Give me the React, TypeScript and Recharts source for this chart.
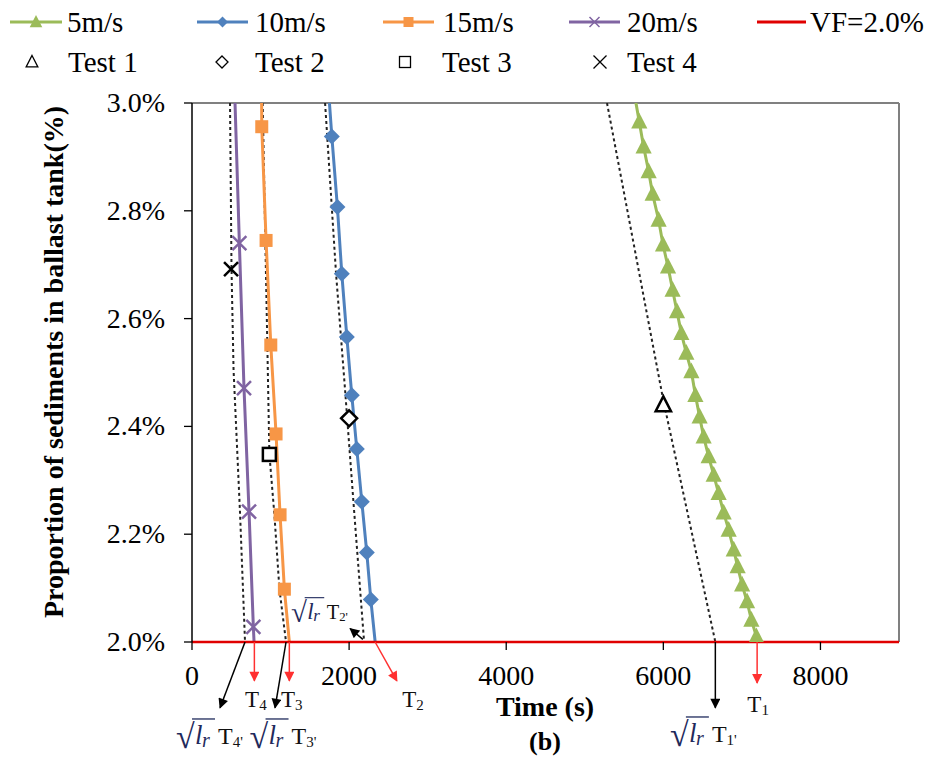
import React from 'react'
import { ComposedChart, Line, Scatter, XAxis, YAxis, ReferenceLine, ReferenceDot } from 'recharts'

const FONT = '"Liberation Serif", "Times New Roman", serif'
const GREEN = '#9bbb59'
const BLUE = '#4f81bd'
const ORANGE = '#f79646'
const PURPLE = '#8064a2'
const RED = '#e00000'
const ARROW_RED = '#ff3030'
const SQRT_BLUE = '#1f2a5c'

const xTicks = [0, 2000, 4000, 6000, 8000]
const yTicks = [2.0, 2.2, 2.4, 2.6, 2.8, 3.0]

// simulated curves (first/last point sit just outside the plot and get clipped)
const time5 = [5615, 5694, 5749, 5813, 5864, 5940, 5996, 6060, 6118, 6174, 6229, 6293, 6357, 6408, 6462, 6513, 6577, 6641, 6704, 6768, 6832, 6896, 6946, 7003, 7066, 7121, 7185, 7245]
const vf5 = [3.03, 2.965, 2.919, 2.873, 2.831, 2.783, 2.737, 2.696, 2.653, 2.613, 2.573, 2.536, 2.502, 2.458, 2.418, 2.381, 2.344, 2.31, 2.276, 2.24, 2.208, 2.171, 2.14, 2.106, 2.075, 2.041, 2.01, 1.97]
const time10 = [1735, 1780, 1851, 1907, 1971, 2034, 2098, 2162, 2225, 2276, 2360]
const vf10 = [3.03, 2.938, 2.807, 2.683, 2.566, 2.458, 2.358, 2.26, 2.166, 2.079, 1.96]
const time15 = [885, 888, 943, 1003, 1070, 1121, 1176, 1265]
const vf15 = [3.04, 2.956, 2.745, 2.551, 2.386, 2.236, 2.098, 1.96]
const time20 = [537, 603, 662, 726, 781, 803]
const vf20 = [3.05, 2.74, 2.471, 2.242, 2.028, 1.96]

// scaled curves (sqrt(lr) * T)
const timeS1 = [5283, 5999, 6662]
const vfS1 = [3.0, 2.449, 2.0]
const timeS2 = [1694, 1834, 1949, 2055, 2191]
const vfS2 = [3.0, 2.683, 2.467, 2.26, 2.0]
const timeS3 = [900, 959, 985, 1049, 1113, 1197]
const vfS3 = [3.0, 2.551, 2.349, 2.236, 2.098, 2.0]
const timeS4 = [484, 503, 529, 611, 675]
const vfS4 = [3.0, 2.692, 2.505, 2.241, 2.0]

// experiments
const testNames = ['Test 1', 'Test 2', 'Test 3', 'Test 4']
const testTime = [6000, 2000, 985, 497]
const testVf = [2.44, 2.415, 2.348, 2.692]

const zip = (xs: number[], ys: number[]) => xs.map((x, i) => ({ x, y: ys[i] }))

const s5 = zip(time5, vf5)
const s10 = zip(time10, vf10)
const s15 = zip(time15, vf15)
const s20 = zip(time20, vf20)
const scaled = [zip(timeS1, vfS1), zip(timeS2, vfS2), zip(timeS3, vfS3), zip(timeS4, vfS4)]
const tests = testNames.map((name, i) => ({ name, data: [{ x: testTime[i], y: testVf[i] }] }))

// annotation arrows, in data coordinates
const redArrows = [
  [{ x: 794, y: 2.0 }, { x: 794, y: 1.928 }],
  [{ x: 1239, y: 2.0 }, { x: 1239, y: 1.928 }],
  [{ x: 2331, y: 2.0 }, { x: 2608, y: 1.928 }],
  [{ x: 7194, y: 2.0 }, { x: 7194, y: 1.924 }],
]
const blackArrows = [
  [{ x: 675, y: 2.0 }, { x: 357, y: 1.878 }],
  [{ x: 1197, y: 2.0 }, { x: 1057, y: 1.878 }],
  [{ x: 6662, y: 2.0 }, { x: 6662, y: 1.878 }],
  [{ x: 2175, y: 2.005 }, { x: 2013, y: 2.025 }],
]
const tLabels = [
  { x: 803, y: 1.892, sub: '4' },
  { x: 1261, y: 1.892, sub: '3' },
  { x: 2803, y: 1.892, sub: '2' },
  { x: 7197, y: 1.883, sub: '1' },
]
const sqrtLabels = [
  { x: 242, y: 1.8275, sub: "4'", scale: 1 },
  { x: 1178, y: 1.8275, sub: "3'", scale: 1 },
  { x: 6529, y: 1.8312, sub: "1'", scale: 1 },
  { x: 1640, y: 2.057, sub: "2'", scale: 0.85 },
]

const triPath = (cx: number, cy: number, s: number) =>
  `M${cx},${cy - s} L${cx + s * 0.9},${cy + s * 0.75} L${cx - s * 0.9},${cy + s * 0.75} Z`
const diaPath = (cx: number, cy: number, s: number) =>
  `M${cx},${cy - s} L${cx + s},${cy} L${cx},${cy + s} L${cx - s},${cy} Z`
const xPath = (cx: number, cy: number, s: number) =>
  `M${cx - s},${cy - s} L${cx + s},${cy + s} M${cx + s},${cy - s} L${cx - s},${cy + s}`

const triDot = (p: any) =>
  p.cx == null ? null : <path key={`tri${p.index}`} d={triPath(p.cx, p.cy, 9)} fill={GREEN} />
const diaDot = (p: any) =>
  p.cx == null ? null : <path key={`dia${p.index}`} d={diaPath(p.cx, p.cy, 8)} fill={BLUE} />
const sqDot = (p: any) =>
  p.cx == null ? null : <rect key={`sq${p.index}`} x={p.cx - 6.5} y={p.cy - 6.5} width={13} height={13} fill={ORANGE} />
const xDot = (p: any) =>
  p.cx == null ? null : <path key={`x${p.index}`} d={xPath(p.cx, p.cy, 7)} stroke={PURPLE} strokeWidth={2.5} fill="none" />

const testShapes = [
  (p: any) => <path d={triPath(p.cx, p.cy, 8.5)} fill="#fff" stroke="#000" strokeWidth={2.5} />,
  (p: any) => <path d={diaPath(p.cx, p.cy, 8)} fill="#fff" stroke="#000" strokeWidth={2.5} />,
  (p: any) => <rect x={p.cx - 6.5} y={p.cy - 6.5} width={13} height={13} fill="#fff" stroke="#000" strokeWidth={2.5} />,
  (p: any) => <path d={xPath(p.cx, p.cy, 7)} stroke="#000" strokeWidth={2.5} fill="none" />,
]

const XTick = (p: any) => (
  <text x={p.x} y={p.y} dy={20} textAnchor="middle" fontFamily={FONT} fontSize={28} fill="#000">
    {p.payload.value}
  </text>
)
const YTick = (p: any) => (
  <text x={p.x} y={p.y} dy={9} textAnchor="end" fontFamily={FONT} fontSize={28} fill="#000">
    {`${Number(p.payload.value).toFixed(1)}%`}
  </text>
)

function TLabel({ cx, cy, sub }: { cx: number; cy: number; sub: string }) {
  return (
    <text x={cx - 10} y={cy + 7} fontFamily={FONT} fontSize={23} fill="#111">
      T<tspan fontSize={15} dy={3}>{sub}</tspan>
    </text>
  )
}

function SqrtLabel({ cx, cy, sub, scale }: { cx: number; cy: number; sub: string; scale: number }) {
  return (
    <g transform={`translate(${cx},${cy}) scale(${scale}) translate(-35,0)`}>
      <text x={0} y={13} fontFamily={FONT} fontSize={34} fill={SQRT_BLUE}>√</text>
      <line x1={16} y1={-16} x2={39} y2={-16} stroke={SQRT_BLUE} strokeWidth={1.3} />
      <text x={19} y={9} fontFamily={FONT} fontSize={27} fontStyle="italic" fill={SQRT_BLUE}>l</text>
      <text x={26} y={12} fontFamily={FONT} fontSize={20} fontStyle="italic" fill={SQRT_BLUE}>r</text>
      <text x={42} y={9} fontFamily={FONT} fontSize={24} fill="#111">
        T<tspan fontSize={15} dy={3}>{sub}</tspan>
      </text>
    </g>
  )
}

function ChartLegend() {
  const row1 = [
    { label: '5m/s', color: GREEN, x1: 10, x2: 62, tx: 67, mark: 'tri' },
    { label: '10m/s', color: BLUE, x1: 197, x2: 248, tx: 255, mark: 'dia' },
    { label: '15m/s', color: ORANGE, x1: 383, x2: 434, tx: 443, mark: 'sq' },
    { label: '20m/s', color: PURPLE, x1: 569, x2: 620, tx: 627, mark: 'x' },
    { label: 'VF=2.0%', color: RED, x1: 757, x2: 806, tx: 810, mark: 'none' },
  ]
  const row2 = [
    { cx: 32, tx: 68 },
    { cx: 222, tx: 255 },
    { cx: 405, tx: 442 },
    { cx: 600, tx: 627 },
  ]
  return (
    <svg width={939} height={90} style={{ position: 'absolute', left: 0, top: 0, pointerEvents: 'none' }}>
      {row1.map((it) => {
        const mx = (it.x1 + it.x2) / 2
        return (
          <g key={it.label}>
            <line x1={it.x1} y1={22} x2={it.x2} y2={22} stroke={it.color} strokeWidth={3} />
            {it.mark === 'tri' && <path d={triPath(mx, 22, 7)} fill={it.color} />}
            {it.mark === 'dia' && <path d={diaPath(mx, 22, 5.5)} fill={it.color} />}
            {it.mark === 'sq' && <rect x={mx - 5} y={17} width={10} height={10} fill={it.color} />}
            {it.mark === 'x' && <path d={xPath(mx, 22, 5)} stroke={it.color} strokeWidth={1.5} fill="none" />}
            <text x={it.tx} y={32} fontFamily={FONT} fontSize={29} fill="#000">{it.label}</text>
          </g>
        )
      })}
      {row2.map((it, i) => (
        <g key={i}>
          {i === 0 && <path d={triPath(it.cx, 62, 6.5)} fill="none" stroke="#000" strokeWidth={1.3} />}
          {i === 1 && <path d={diaPath(it.cx, 62, 6)} fill="none" stroke="#000" strokeWidth={1.3} />}
          {i === 2 && <rect x={it.cx - 5.5} y={56.5} width={11} height={11} fill="none" stroke="#000" strokeWidth={1.3} />}
          {i === 3 && <path d={xPath(it.cx, 62, 6.5)} fill="none" stroke="#000" strokeWidth={1.3} />}
          <text x={it.tx} y={72} fontFamily={FONT} fontSize={29} fill="#000">{testNames[i]}</text>
        </g>
      ))}
    </svg>
  )
}

export default function App() {
  return (
    <div style={{ position: 'absolute', left: 0, top: 0, width: 939, height: 760, background: '#fff', fontFamily: FONT }}>
      <svg width={0} height={0} style={{ position: 'absolute' }}>
        <defs>
          <marker id="ahRed" viewBox="0 0 10 10" refX="9" refY="5" markerWidth="11" markerHeight="10" markerUnits="userSpaceOnUse" orient="auto">
            <path d="M0,0 L10,5 L0,10 z" fill={ARROW_RED} />
          </marker>
          <marker id="ahBlack" viewBox="0 0 10 10" refX="9" refY="5" markerWidth="11" markerHeight="10" markerUnits="userSpaceOnUse" orient="auto">
            <path d="M0,0 L10,5 L0,10 z" fill="#000" />
          </marker>
        </defs>
      </svg>
      <ComposedChart width={939} height={760} margin={{ top: 103, right: 40, bottom: 0, left: 0 }}>
        <XAxis
          type="number"
          dataKey="x"
          domain={[0, 9000]}
          ticks={xTicks}
          allowDataOverflow
          height={118}
          axisLine={false}
          tickSize={8}
          tickMargin={15}
          tickLine={{ stroke: '#000', strokeWidth: 1.3 }}
          tick={XTick}
          label={() => (
            <g>
              <text x={545} y={716} textAnchor="middle" fontFamily={FONT} fontWeight="bold" fontSize={28} fill="#000">Time (s)</text>
              <text x={545} y={750} textAnchor="middle" fontFamily={FONT} fontWeight="bold" fontSize={26} fill="#000">(b)</text>
            </g>
          )}
        />
        <YAxis
          type="number"
          dataKey="y"
          domain={[2, 3]}
          ticks={yTicks}
          allowDataOverflow
          width={192}
          axisLine={{ stroke: '#000', strokeWidth: 1.5 }}
          tickSize={8}
          tickMargin={19}
          tickLine={{ stroke: '#000', strokeWidth: 1.3 }}
          tick={YTick}
          label={() => (
            <text x={63} y={362} transform="rotate(-90 63 362)" textAnchor="middle" fontFamily={FONT} fontWeight="bold" fontSize={28} fill="#000">
              Proportion of sediments in ballast tank(%)
            </text>
          )}
        />
        <ReferenceLine y={3} stroke="#808080" strokeWidth={2} ifOverflow="visible" />
        <ReferenceLine x={9000} stroke="#808080" strokeWidth={2} ifOverflow="visible" />

        {scaled.map((d, i) => (
          <Line key={`s${i}`} data={d} dataKey="y" type="linear" stroke="#222" strokeWidth={2} strokeDasharray="3 3" dot={false} isAnimationActive={false} />
        ))}
        <Line data={s5} dataKey="y" name="5m/s" type="linear" stroke={GREEN} strokeWidth={3} dot={triDot} isAnimationActive={false} />
        <Line data={s10} dataKey="y" name="10m/s" type="linear" stroke={BLUE} strokeWidth={3} dot={diaDot} isAnimationActive={false} />
        <Line data={s15} dataKey="y" name="15m/s" type="linear" stroke={ORANGE} strokeWidth={3} dot={sqDot} isAnimationActive={false} />
        <Line data={s20} dataKey="y" name="20m/s" type="linear" stroke={PURPLE} strokeWidth={3} dot={xDot} isAnimationActive={false} />
        {tests.map((t, i) => (
          <Scatter key={t.name} name={t.name} data={t.data} shape={testShapes[i]} isAnimationActive={false} />
        ))}

        <ReferenceLine y={2} stroke={RED} strokeWidth={2.5} ifOverflow="visible" />
        {redArrows.map((seg, i) => (
          <ReferenceLine key={`ra${i}`} segment={seg} stroke={ARROW_RED} strokeWidth={1.5} ifOverflow="visible" markerEnd="url(#ahRed)" />
        ))}
        {blackArrows.map((seg, i) => (
          <ReferenceLine key={`ba${i}`} segment={seg} stroke="#000" strokeWidth={1.5} ifOverflow="visible" markerEnd="url(#ahBlack)" />
        ))}
        {tLabels.map((l, i) => (
          <ReferenceDot key={`tl${i}`} x={l.x} y={l.y} r={0} ifOverflow="visible" shape={(p: any) => <TLabel cx={p.cx} cy={p.cy} sub={l.sub} />} />
        ))}
        {sqrtLabels.map((l, i) => (
          <ReferenceDot key={`sl${i}`} x={l.x} y={l.y} r={0} ifOverflow="visible" shape={(p: any) => <SqrtLabel cx={p.cx} cy={p.cy} sub={l.sub} scale={l.scale} />} />
        ))}
      </ComposedChart>
      <ChartLegend />
    </div>
  )
}
